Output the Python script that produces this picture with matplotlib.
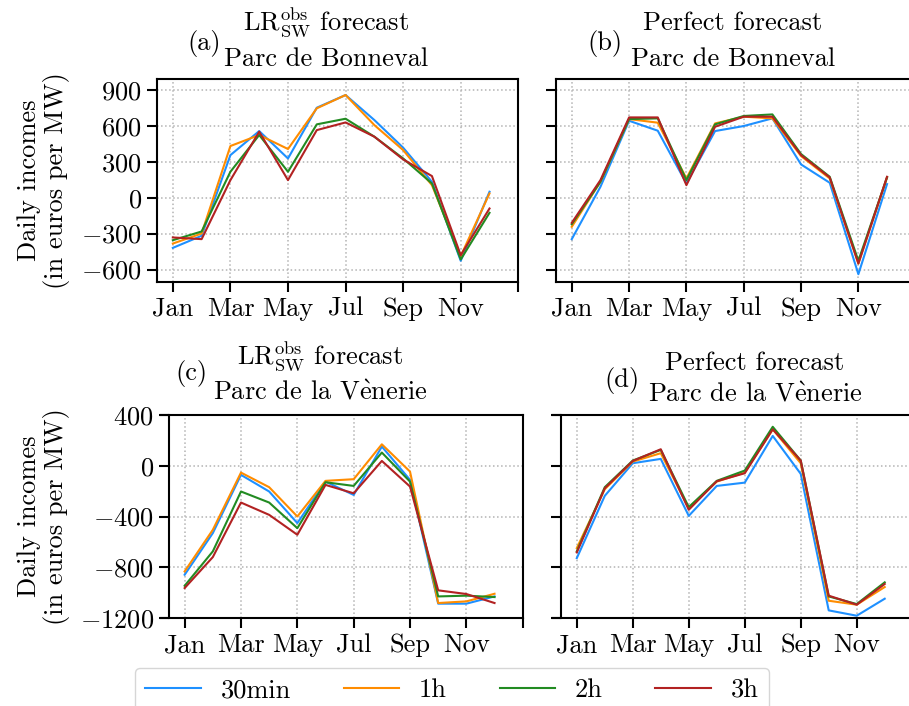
# daily incomes per month for the two wind farms, forecast vs perfect forecast

import numpy as np
import matplotlib
matplotlib.use('Agg')
import matplotlib.pyplot as plt

plt.rcParams['font.family'] = 'serif'
plt.rcParams['font.serif'] = ['cmr10', 'DejaVu Serif']
plt.rcParams['mathtext.fontset'] = 'cm'
plt.rcParams['axes.formatter.use_mathtext'] = True
plt.rcParams['axes.unicode_minus'] = True
plt.rcParams['font.size'] = 19

months = np.arange(12)
month_ticks = [0, 2, 4, 6, 8, 10, 12]
month_labels = ['Jan', 'Mar', 'May', 'Jul', 'Sep', 'Nov', '']

horizons = ['30min', '1h', '2h', '3h']
colors = ['#1E90FF', '#FF8C00', '#228B22', '#B22222']

# (a) LR forecast, Parc de Bonneval
bonneval_lr_30min = [-419, -318, 356, 557, 328, 752, 858, 649, 418, 133, -527, 50]
bonneval_lr_1h = [-383, -299, 432, 524, 407, 747, 858, 607, 398, 105, -488, 36]
bonneval_lr_2h = [-355, -282, 217, 524, 217, 613, 660, 510, 328, 119, -516, -126]
bonneval_lr_3h = [-332, -346, 147, 552, 147, 565, 629, 510, 320, 181, -480, -90]

# (b) perfect forecast, Parc de Bonneval
bonneval_pf_30min = [-346, 91, 643, 560, 119, 557, 599, 663, 278, 125, -639, 114]
bonneval_pf_1h = [-243, 133, 657, 627, 161, 621, 677, 663, 348, 161, -550, 170]
bonneval_pf_2h = [-221, 133, 657, 663, 147, 613, 683, 696, 365, 175, -527, 170]
bonneval_pf_3h = [-210, 147, 671, 671, 105, 593, 677, 677, 356, 170, -550, 175]

# (c) LR forecast, Parc de la Venerie
venerie_lr_30min = [-859, -531, -72, -203, -452, -125, -230, 151, -111, -1087, -1087, -1030]
venerie_lr_1h = [-833, -505, -54, -169, -400, -119, -106, 169, -46, -1082, -1069, -1009]
venerie_lr_2h = [-946, -675, -203, -290, -492, -130, -159, 104, -125, -1030, -1024, -1035]
venerie_lr_3h = [-964, -720, -290, -387, -544, -151, -217, 38, -164, -982, -1011, -1082]

# (d) perfect forecast, Parc de la Venerie
venerie_pf_30min = [-728, -237, 20, 54, -395, -159, -133, 235, -64, -1140, -1182, -1048]
venerie_pf_1h = [-649, -185, 33, 99, -334, -125, -54, 287, 20, -1064, -1095, -956]
venerie_pf_2h = [-675, -169, 41, 125, -326, -119, -38, 307, 41, -1030, -1090, -919]
venerie_pf_3h = [-683, -177, 38, 130, -347, -122, -59, 287, 41, -1024, -1095, -932]

W, H = 909, 706
fig = plt.figure(figsize=(W/100, H/100), dpi=100)

def px_axes(left, right, top, bottom):
    return fig.add_axes([left/W, 1-bottom/H, (right-left)/W, (bottom-top)/H])

ax_a = px_axes(157, 518.3, 79, 281.5)
ax_b = px_axes(556, 915.7, 79, 281.5)
ax_c = px_axes(160.7, 522.7, 415, 618)
ax_d = px_axes(553, 912.7, 415, 618)

panels = [
    (ax_a, [bonneval_lr_30min, bonneval_lr_1h, bonneval_lr_2h, bonneval_lr_3h]),
    (ax_b, [bonneval_pf_30min, bonneval_pf_1h, bonneval_pf_2h, bonneval_pf_3h]),
    (ax_c, [venerie_lr_30min, venerie_lr_1h, venerie_lr_2h, venerie_lr_3h]),
    (ax_d, [venerie_pf_30min, venerie_pf_1h, venerie_pf_2h, venerie_pf_3h]),
]

lines = []
for ax, series in panels:
    for k in range(len(horizons)):
        l, = ax.plot(months, series[k], color=colors[k], lw=1.5, label=horizons[k])
        if ax is ax_a:
            lines.append(l)
    ax.set_xticks(month_ticks)
    ax.set_xticklabels(month_labels)
    ax.grid(True, linestyle=':', color='0.7', lw=1.1)
    ax.tick_params(length=7, width=1.5, direction='out', pad=4)
    for s in ax.spines.values():
        s.set_linewidth(1.5)

for ax in [ax_a, ax_b]:
    ax.set_xlim(-0.55, 12)
    ax.set_ylim(-700, 992)
    ax.set_yticks([900, 600, 300, 0, -300, -600])
for ax in [ax_c, ax_d]:
    ax.set_xlim(-0.85, 12)
    ax.set_ylim(-1200, 400)
    ax.set_yticks([400, 0, -400, -800, -1200])
    ax.spines['left'].set_position(('data', -0.55))

ax_b.set_yticklabels([])
ax_d.set_yticklabels([])

ylab = 'Daily incomes\n(in euros per MW)'
ax_a.set_ylabel(ylab, linespacing=1.1)
ax_a.yaxis.set_label_coords(-0.241, 0.5)
ax_c.set_ylabel(ylab, linespacing=1.1)
ax_c.yaxis.set_label_coords(-0.251, 0.5)

lr_title = r'$\mathrm{LR}_{\mathrm{SW}}^{\mathrm{obs}}$ forecast'
pf_title = 'Perfect forecast'
bonneval = 'Parc de Bonneval'
venerie = r'Parc de la V$\grave{\mathrm{e}}$nerie'

def title_block(tag, tag_x, tag_y, line1, line2, cx, y1, y2):
    fig.text(tag_x/W, 1-tag_y/H, tag, ha='right', va='baseline')
    fig.text(cx/W, 1-y1/H, line1, ha='center', va='baseline')
    fig.text(cx/W, 1-y2/H, line2, ha='center', va='baseline')

title_block('(a)', 221, 50, lr_title, bonneval, 326, 30, 66)
title_block('(b)', 622, 50, pf_title, bonneval, 733, 30, 66)
title_block('(c)', 207, 380, lr_title, venerie, 320, 364, 399)
title_block('(d)', 640, 387, pf_title, venerie, 755, 370, 402)

fig.legend(lines, horizons, loc='upper center', bbox_to_anchor=(452/W, 1-668/H),
           ncol=4, handlelength=2.1, handletextpad=0.75, columnspacing=2.0,
           borderaxespad=0, fancybox=True)

plt.savefig('out.png', dpi=100)
